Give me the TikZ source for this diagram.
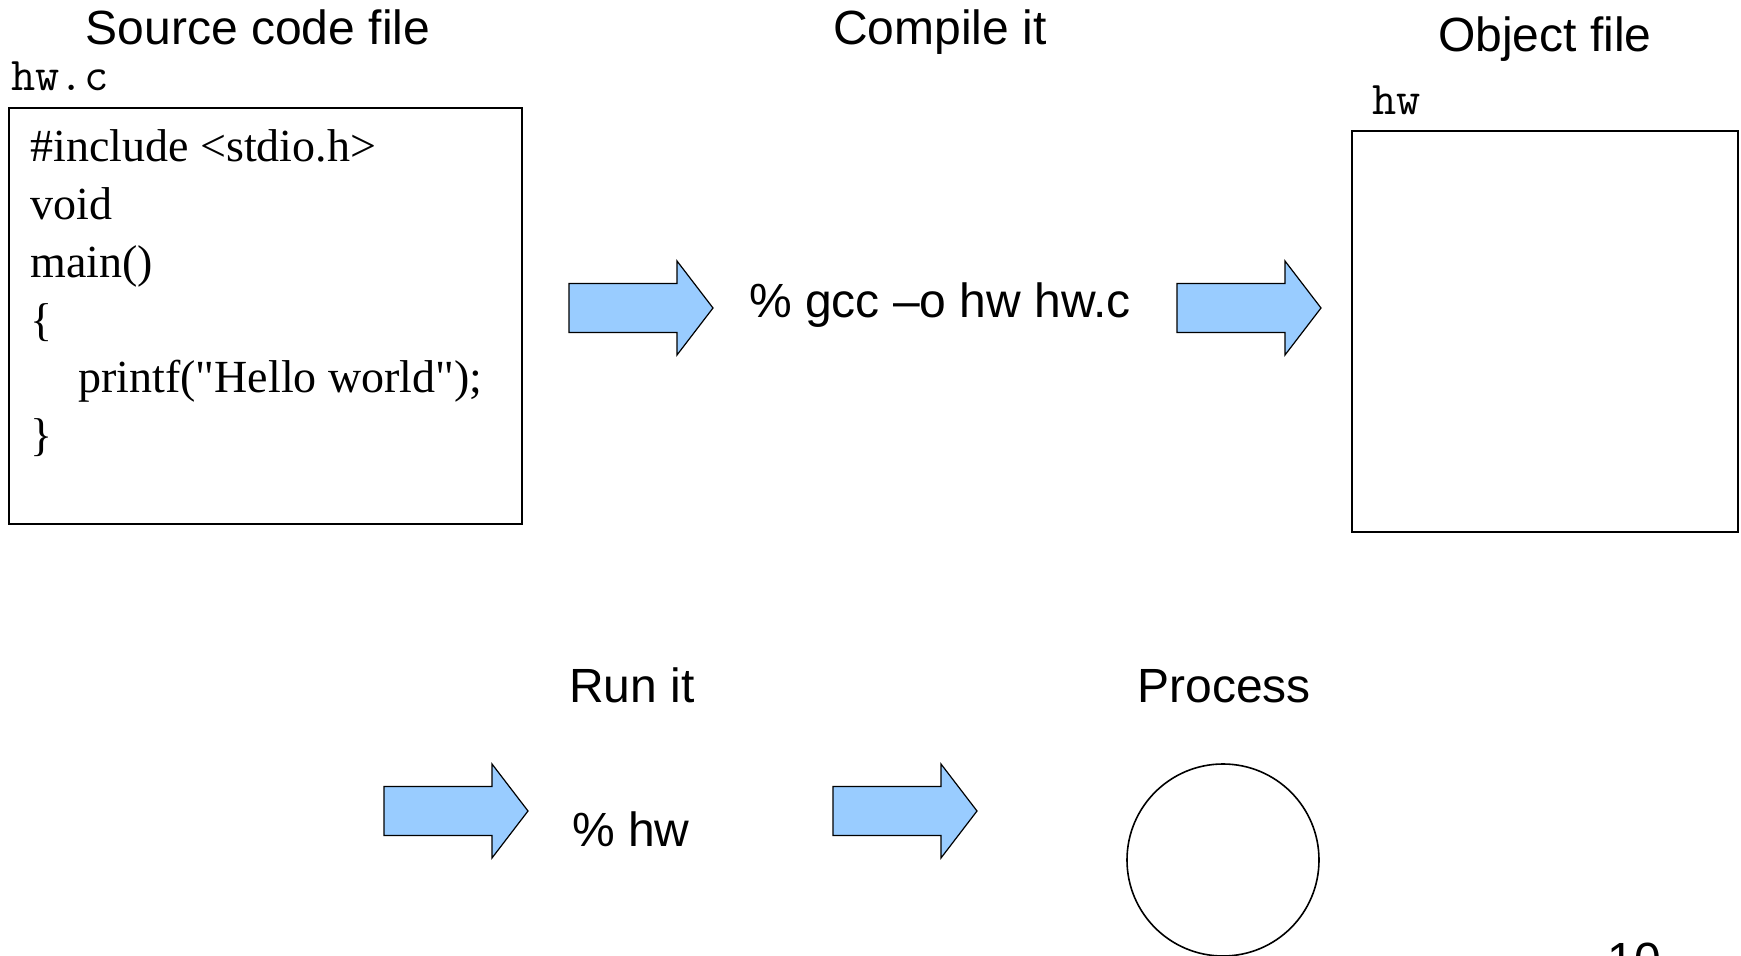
\documentclass[tikz,border=0pt]{standalone}
\usepackage{fontspec}
\setmainfont{Liberation Sans}
\newfontfamily\codefont{Liberation Serif}
\definecolor{arrowblue}{HTML}{99CCFF}
\begin{document}
\begin{tikzpicture}[x=0.5pt,y=-0.5pt,
  title/.style={inner sep=0pt, anchor=base, font=\fontsize{24}{28}\selectfont},
  fname/.style={inner sep=0pt, anchor=base west, font=\ttfamily\fontsize{23.5}{26}\selectfont},
  codeline/.style={inner sep=0pt, anchor=base west, font=\codefont\fontsize{23}{28}\selectfont},
  filebox/.style={draw=black, line width=0.8pt},
  blockarrow/.style={draw=black, line width=0.6pt, fill=arrowblue, line join=miter},
  cmd/.style={inner sep=0pt, anchor=base, font=\fontsize{24}{28}\selectfont}
]
\useasboundingbox (0,0) rectangle (1741,956);

% titles
\node[title] (tsrc) at (258,45) {Source code file};
\node[title] (tcomp) at (940,45) {Compile it};
\node[title] (tobj) at (1545,52) {Object file};
\node[title] (trun) at (632,703) {Run it};
\node[title] (tproc) at (1224,703) {Process};

% file names
\node[fname] (fhwc) at (11,91) {hw.c};
\node[fname] (fhw) at (1372,115) {hw};

% source box
\draw[filebox] (9,108) rectangle (522,524);
\node[codeline] (c1) at (30,162) {\#include <stdio.h>};
\node[codeline] (c2) at (30,219.7) {void};
\node[codeline] (c3) at (30,277.4) {main()};
\node[codeline] (c4) at (30,335.1) {\{};
\node[codeline] (c5) at (78,392.8) {printf("Hello world");};
\node[codeline] (c6) at (30,450.5) {\}};

% object box
\draw[filebox] (1352,131) rectangle (1738,532);

% commands
\node[cmd] (gcc) at (940,318) {\% gcc –o hw hw.c};
\node[cmd] (runhw) at (631,846) {\% hw};

% block arrows
\newcommand{\blockarr}[2]{%
  \draw[blockarrow] (#1,#2-24.5) -- (#1+108,#2-24.5) -- (#1+108,#2-47) -- (#1+144,#2)
    -- (#1+108,#2+47) -- (#1+108,#2+24.5) -- (#1,#2+24.5) -- cycle;}
\blockarr{569}{308}
\blockarr{1177}{308}
\blockarr{384}{811}
\blockarr{833}{811}

% process circle
\draw[line width=0.8pt] (1223,860) circle[radius=96];

% page number (cut off by the lower edge, as in the reference)
\node[inner sep=0pt, anchor=base, font=\fontsize{24}{28}\selectfont] (pnum) at (1634,976) {10};
\end{tikzpicture}
\end{document}
